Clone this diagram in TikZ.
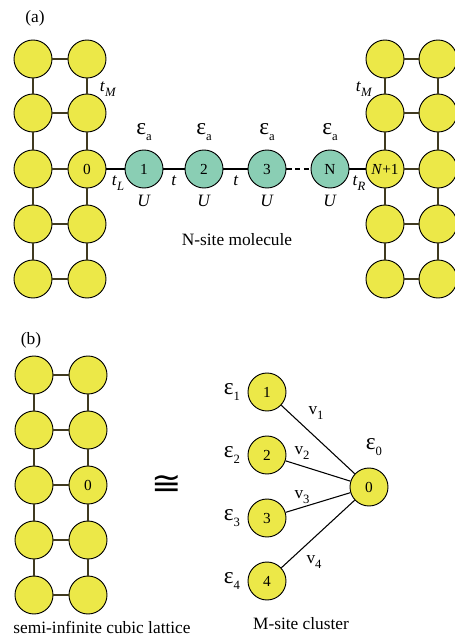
\documentclass[tikz,border=0pt]{standalone}
\usepackage{fontspec}
\setmainfont{Liberation Serif}
\newfontfamily\relfont{DejaVu Sans}
\usepackage{xcolor}
\usetikzlibrary{positioning}

\definecolor{siteyellow}{RGB}{236,232,72}
\definecolor{molgreen}{RGB}{138,206,180}
\definecolor{hopolive}{RGB}{64,58,32}

% base with lowered index
\newcommand{\withidx}[2]{#1\raisebox{-0.55ex}{\fontsize{9.5}{10}\selectfont #2}}

\begin{document}
\begin{tikzpicture}[
  x=0.75pt, y=-0.75pt,
  site/.style={draw, circle, fill=siteyellow, line width=0.7pt, minimum size=28.5pt, inner sep=0pt, font=\fontsize{11.5}{12}\selectfont},
  mol/.style={site, fill=molgreen},
  hop/.style={draw=hopolive, line width=0.9pt},
  bond/.style={line width=2.2pt},
  link/.style={line width=0.8pt},
  txt/.style={font=\fontsize{13}{15}\selectfont, inner sep=1pt},
  epslbl/.style={font=\fontsize{17.5}{19}\selectfont, inner sep=1pt}
]
  \useasboundingbox (0,0) rectangle (454,635);

  % (a) left lead
  \foreach \r/\y in {1/59,2/113,3/169,4/224,5/279} {
    \node[site] (la\r) at (33,\y) {};
    \node[site] (lb\r) at (87,\y) {\ifnum\r=3 0\fi};
    \draw[hop] (la\r) -- (lb\r);
  }
  % (a) right lead
  \foreach \r/\y in {1/59,2/113,3/169,4/224,5/279} {
    \node[site] (ra\r) at (385,\y) {\ifnum\r=3 \textit{N}+1\fi};
    \node[site] (rb\r) at (438,\y) {};
    \draw[hop] (ra\r) -- (rb\r);
  }
  \foreach \r/\nr in {1/2,2/3,3/4,4/5} {
    \draw[hop] (la\r) -- (la\nr);
    \draw[hop] (lb\r) -- (lb\nr);
    \draw[hop] (ra\r) -- (ra\nr);
    \draw[hop] (rb\r) -- (rb\nr);
  }

  % molecule
  \node[mol] (m1) at (144,169) {1};
  \node[mol] (m2) at (204,169) {2};
  \node[mol] (m3) at (267,169) {3};
  \node[mol] (mN) at (330,169) {N};
  \draw[bond] (lb3) -- (m1) -- (m2) -- (m3);
  \draw[bond, dashed, dash pattern=on 4pt off 2.5pt] (m3) -- (mN);
  \draw[bond] (mN) -- (ra3);

  \foreach \m/\x in {1/144,2/204,3/267,N/330} {
    \node[epslbl] (eps\m) at (\x,132) {\withidx{ε}{a}};
    \node[txt] (U\m) at (\x,201) {\textit{U}};
  }
  \node[txt] (tL) at (118,183) {\withidx{\textit{t}}{\textit{L}}};
  \node[txt] (t12) at (174,181) {\textit{t}};
  \node[txt] (t23) at (236,181) {\textit{t}};
  \node[txt] (tR) at (359,183) {\withidx{\textit{t}}{\textit{R}}};
  \node[txt] (tML) at (108,89) {\withidx{\textit{t}}{\textit{M}}};
  \node[txt] (tMR) at (364,89) {\withidx{\textit{t}}{\textit{M}}};
  \node[txt] (molname) at (237,240) {N-site molecule};
  \node[txt] (tagA) at (35,18) {(a)};

  % (b) semi-infinite lattice
  \foreach \r/\y in {1/375,2/430,3/485,4/540,5/595} {
    \node[site] (ba\r) at (34,\y) {};
    \node[site] (bb\r) at (88,\y) {\ifnum\r=3 0\fi};
    \draw[hop] (ba\r) -- (bb\r);
  }
  \foreach \r/\nr in {1/2,2/3,3/4,4/5} {
    \draw[hop] (ba\r) -- (ba\nr);
    \draw[hop] (bb\r) -- (bb\nr);
  }
  \node[txt] (tagB) at (31,340) {(b)};
  \node[txt] (latname) at (102,627) {semi-infinite cubic lattice};
  \node[inner sep=0pt] (equiv) at (167,485) {\scalebox{1.3}[1.15]{\relfont\fontsize{21}{23}\selectfont ≅}};

  % (b) cluster
  \node[site] (c0) at (369,487) {0};
  \foreach \k/\y in {1/392,2/455,3/518,4/581} {
    \node[site] (c\k) at (267,\y) {\k};
    \node[epslbl] (ceps\k) at (232,\y) {\withidx{ε}{\k}};
    \draw[link] (c\k) -- (c0);
  }
  \node[epslbl] (ceps0) at (374,447) {\withidx{ε}{0}};
  \node[txt] (v1) at (316,413) {\withidx{v}{1}};
  \node[txt] (v2) at (302,453) {\withidx{v}{2}};
  \node[txt] (v3) at (302,497) {\withidx{v}{3}};
  \node[txt] (v4) at (314,562) {\withidx{v}{4}};
  \node[txt] (clname) at (301,624) {M-site cluster};
\end{tikzpicture}
\end{document}
